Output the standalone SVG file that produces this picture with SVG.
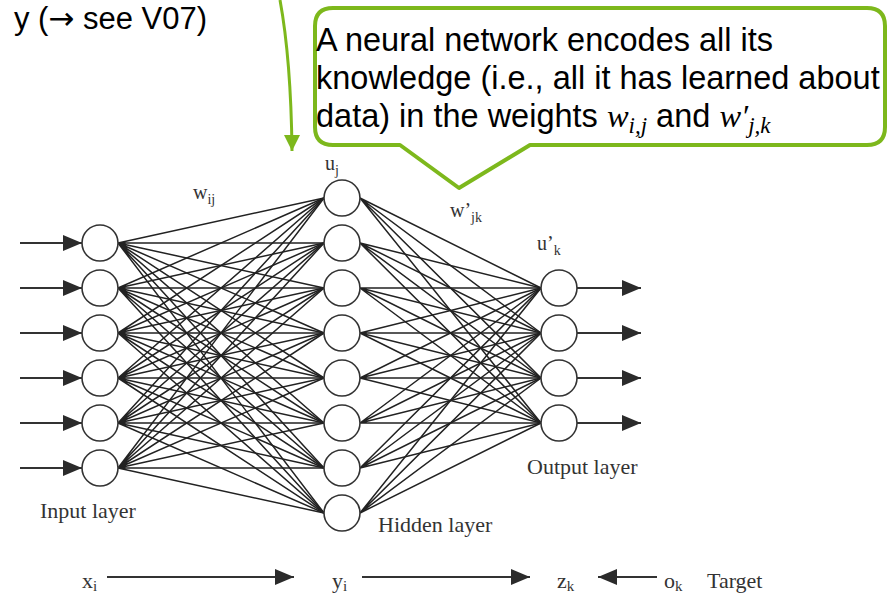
<svg xmlns="http://www.w3.org/2000/svg" width="889" height="593" viewBox="0 0 889 593">
<style>
.sans{font-family:"Liberation Sans",Arial,sans-serif;fill:#000}
.serif{font-family:"Liberation Serif","Times New Roman",serif;fill:#333}
.math{font-family:"Liberation Serif","Times New Roman",serif;font-style:italic}
.node{fill:#fff;stroke:#333;stroke-width:1.6}
.edge{fill:none;stroke:#222;stroke-width:1.5}
.arr{stroke:#333;stroke-width:1.8;fill:none}
.green{stroke:#7DB81C;fill:none}
</style>
<defs>
<marker id="tri" markerUnits="userSpaceOnUse" markerWidth="20" markerHeight="18" refX="19" refY="8" orient="auto">
<path d="M0,0 L19,8 L0,16 Z" fill="#2b2b2b"/>
</marker>
<marker id="gtri" markerUnits="userSpaceOnUse" markerWidth="18" markerHeight="18" refX="8" refY="16" orient="0">
<path d="M0,0 L16,0 L8,16 Z" fill="#7DB81C"/>
</marker>
</defs>

<g id="top-note">
<text class="sans" x="207" y="29" font-size="31" text-anchor="end">y (<tspan font-family="'DejaVu Sans',sans-serif" font-size="31">→</tspan> see V07)</text>
</g>

<g id="green-arrow">
<path class="green" d="M280,0 Q291,60 292,151" stroke-width="3" marker-end="url(#gtri)"/>
</g>

<g id="callout">
<path d="M333,8 H867 Q885,8 885,26 V127 Q885,145 867,145 H530 L459,188 L400,145 H333 Q315,145 315,127 V26 Q315,8 333,8 Z" fill="#fff" stroke="#7DB81C" stroke-width="4" stroke-linejoin="round"/>
<text class="sans" font-size="32.5">
<tspan x="316" y="51">A neural network encodes all its</tspan>
<tspan x="316" y="89">knowledge (i.e., all it has learned about</tspan>
<tspan x="316" y="127">data) in the weights <tspan class="math">w</tspan><tspan class="math" font-size="23" dy="6">i,j</tspan><tspan dy="-6"> and </tspan><tspan class="math">w′</tspan><tspan class="math" font-size="23" dy="6">j,k</tspan></tspan>
</text>
</g>

<g id="connectors">
<path class="edge" d="M118,243 L324,198 M118,243 L324,243 M118,243 L324,288 M118,243 L324,333 M118,243 L324,378 M118,243 L324,423 M118,243 L324,468 M118,243 L324,513"/>
<path class="edge" d="M118,288 L324,198 M118,288 L324,243 M118,288 L324,288 M118,288 L324,333 M118,288 L324,378 M118,288 L324,423 M118,288 L324,468 M118,288 L324,513"/>
<path class="edge" d="M118,333 L324,198 M118,333 L324,243 M118,333 L324,288 M118,333 L324,333 M118,333 L324,378 M118,333 L324,423 M118,333 L324,468 M118,333 L324,513"/>
<path class="edge" d="M118,378 L324,198 M118,378 L324,243 M118,378 L324,288 M118,378 L324,333 M118,378 L324,378 M118,378 L324,423 M118,378 L324,468 M118,378 L324,513"/>
<path class="edge" d="M118,423 L324,198 M118,423 L324,243 M118,423 L324,288 M118,423 L324,333 M118,423 L324,378 M118,423 L324,423 M118,423 L324,468 M118,423 L324,513"/>
<path class="edge" d="M118,468 L324,198 M118,468 L324,243 M118,468 L324,288 M118,468 L324,333 M118,468 L324,378 M118,468 L324,423 M118,468 L324,468 M118,468 L324,513"/>
<path class="edge" d="M360,198 L541,288 M360,198 L541,333 M360,198 L541,378 M360,198 L541,423"/>
<path class="edge" d="M360,243 L541,288 M360,243 L541,333 M360,243 L541,378 M360,243 L541,423"/>
<path class="edge" d="M360,288 L541,288 M360,288 L541,333 M360,288 L541,378 M360,288 L541,423"/>
<path class="edge" d="M360,333 L541,288 M360,333 L541,333 M360,333 L541,378 M360,333 L541,423"/>
<path class="edge" d="M360,378 L541,288 M360,378 L541,333 M360,378 L541,378 M360,378 L541,423"/>
<path class="edge" d="M360,423 L541,288 M360,423 L541,333 M360,423 L541,378 M360,423 L541,423"/>
<path class="edge" d="M360,468 L541,288 M360,468 L541,333 M360,468 L541,378 M360,468 L541,423"/>
<path class="edge" d="M360,513 L541,288 M360,513 L541,333 M360,513 L541,378 M360,513 L541,423"/>
<line class="arr" x1="20" y1="243" x2="82" y2="243" marker-end="url(#tri)"/>
<line class="arr" x1="20" y1="288" x2="82" y2="288" marker-end="url(#tri)"/>
<line class="arr" x1="20" y1="333" x2="82" y2="333" marker-end="url(#tri)"/>
<line class="arr" x1="20" y1="378" x2="82" y2="378" marker-end="url(#tri)"/>
<line class="arr" x1="20" y1="423" x2="82" y2="423" marker-end="url(#tri)"/>
<line class="arr" x1="20" y1="468" x2="82" y2="468" marker-end="url(#tri)"/>
<line class="arr" x1="577" y1="288" x2="641" y2="288" marker-end="url(#tri)"/>
<line class="arr" x1="577" y1="333" x2="641" y2="333" marker-end="url(#tri)"/>
<line class="arr" x1="577" y1="378" x2="641" y2="378" marker-end="url(#tri)"/>
<line class="arr" x1="577" y1="423" x2="641" y2="423" marker-end="url(#tri)"/>
<line class="arr" x1="107" y1="577" x2="294" y2="577" marker-end="url(#tri)"/>
<line class="arr" x1="362" y1="577" x2="530" y2="577" marker-end="url(#tri)"/>
<line class="arr" x1="657" y1="577" x2="598" y2="577" marker-end="url(#tri)"/>
</g>

<g id="input-layer">
<circle class="node" cx="100" cy="243" r="18"/>
<circle class="node" cx="100" cy="288" r="18"/>
<circle class="node" cx="100" cy="333" r="18"/>
<circle class="node" cx="100" cy="378" r="18"/>
<circle class="node" cx="100" cy="423" r="18"/>
<circle class="node" cx="100" cy="468" r="18"/>
<text class="serif" x="40" y="518" font-size="22">Input layer</text>
</g>

<g id="hidden-layer">
<circle class="node" cx="342" cy="198" r="18"/>
<circle class="node" cx="342" cy="243" r="18"/>
<circle class="node" cx="342" cy="288" r="18"/>
<circle class="node" cx="342" cy="333" r="18"/>
<circle class="node" cx="342" cy="378" r="18"/>
<circle class="node" cx="342" cy="423" r="18"/>
<circle class="node" cx="342" cy="468" r="18"/>
<circle class="node" cx="342" cy="513" r="18"/>
<text class="serif" x="378" y="532" font-size="22">Hidden layer</text>
</g>

<g id="output-layer">
<circle class="node" cx="559" cy="288" r="18"/>
<circle class="node" cx="559" cy="333" r="18"/>
<circle class="node" cx="559" cy="378" r="18"/>
<circle class="node" cx="559" cy="423" r="18"/>
<text class="serif" x="527" y="474" font-size="22">Output layer</text>
</g>

<g id="labels">
<text class="serif" x="193" y="199" font-size="20">w<tspan font-size="14" dy="5">ij</tspan></text>
<text class="serif" x="325" y="170" font-size="20">u<tspan font-size="14" dy="5">j</tspan></text>
<text class="serif" x="450" y="217" font-size="20">w’<tspan font-size="14" dy="5">jk</tspan></text>
<text class="serif" x="537" y="250" font-size="20">u’<tspan font-size="14" dy="5">k</tspan></text>
<text class="serif" x="82" y="588" font-size="22">x<tspan font-size="15" dy="3">i</tspan></text>
<text class="serif" x="332" y="588" font-size="22">y<tspan font-size="15" dy="3">i</tspan></text>
<text class="serif" x="557" y="588" font-size="22">z<tspan font-size="15" dy="3">k</tspan></text>
<text class="serif" x="664" y="588" font-size="22">o<tspan font-size="15" dy="3">k</tspan></text>
<text class="serif" x="707" y="588" font-size="22">Target</text>
</g>
</svg>
